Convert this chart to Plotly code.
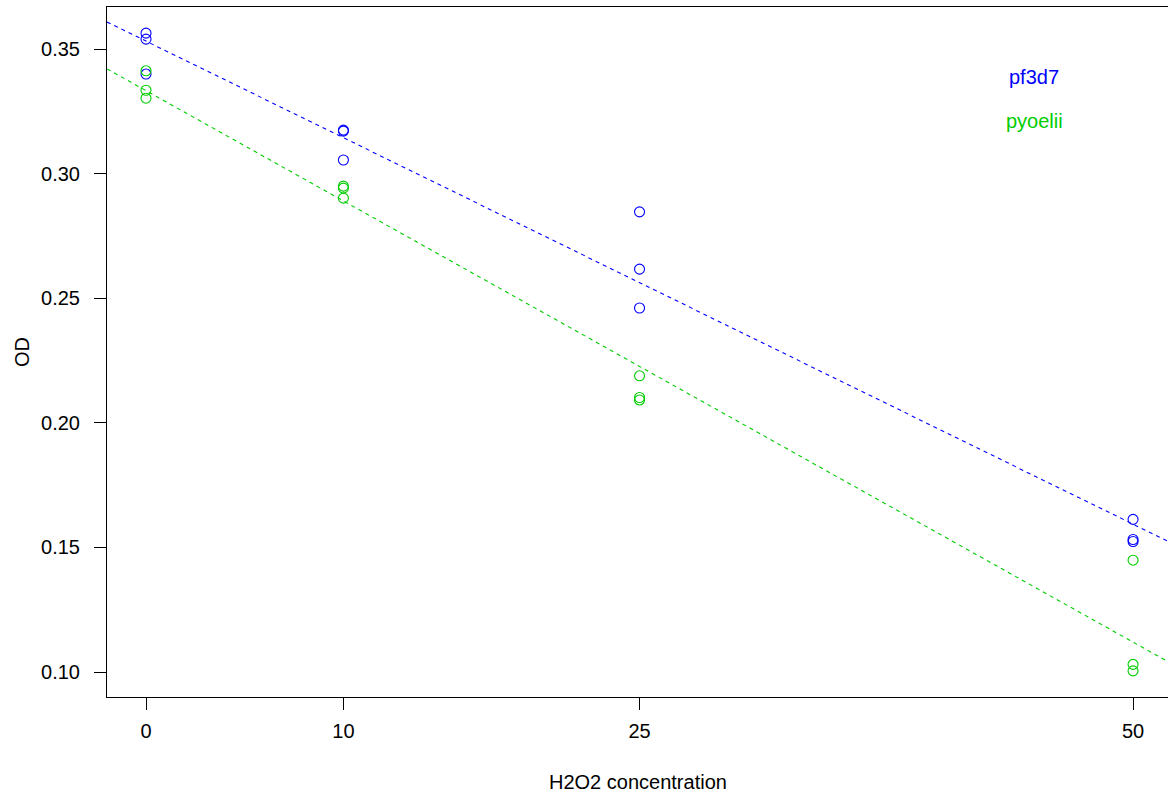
import numpy as np
import plotly.graph_objects as go

# Data
conc = [0, 0, 0, 10, 10, 10, 25, 25, 25, 50, 50, 50]
pf3d7_od = [0.3564, 0.3540, 0.3400, 0.3175, 0.3171, 0.3055,
            0.2847, 0.2617, 0.2461, 0.1613, 0.1532, 0.1524]
pyoelii_od = [0.3413, 0.3335, 0.3303, 0.2950, 0.2942, 0.2902,
              0.2189, 0.2102, 0.2092, 0.1449, 0.1031, 0.1005]
x_ticks = [0, 10, 25, 50]
y_ticks = [0.10, 0.15, 0.20, 0.25, 0.30, 0.35]

BLUE = "#0000FF"
GREEN = "#00CD00"
FONT = "Liberation Sans, Arial, sans-serif"

x_range = [-1.976, 51.77]
y_range = [0.0900, 0.3669]

W, H = 1168, 800
ML, MT, MB = 107, 7, 103
plot_w = W - ML
plot_h = H - MT - MB

fig = go.Figure()

for vals, col in [(pf3d7_od, BLUE), (pyoelii_od, GREEN)]:
    fig.add_trace(go.Scatter(
        x=conc, y=vals, mode="markers",
        marker=dict(symbol="circle-open", size=10, color=col, line=dict(width=1.1, color=col)),
        showlegend=False, hoverinfo="skip"))
    slope, intercept = np.polyfit(conc, vals, 1)
    xs = np.array(x_range)
    fig.add_trace(go.Scatter(
        x=xs, y=intercept + slope * xs, mode="lines",
        line=dict(color=col, width=1.1, dash="4px,4px"),
        showlegend=False, hoverinfo="skip"))

fig.add_annotation(x=45, y=0.3388, xref="x", yref="y", text="pf3d7", showarrow=False,
                   font=dict(family=FONT, size=20, color=BLUE))
fig.add_annotation(x=45, y=0.3211, xref="x", yref="y", text="pyoelii", showarrow=False,
                   font=dict(family=FONT, size=20, color=GREEN))

# axis titles
fig.add_annotation(x=0.5, y=-85 / plot_h, xref="paper", yref="paper", text="H2O2 concentration",
                   showarrow=False, yanchor="middle",
                   font=dict(family=FONT, size=20, color="black"))
fig.add_annotation(text="OD", xref="paper", yref="paper", x=-85 / plot_w, y=0.5,
                   xanchor="center", showarrow=False, textangle=-90,
                   font=dict(family=FONT, size=20, color="black"))

fig.update_layout(
    width=W, height=H,
    margin=dict(l=ML, r=0, t=MT, b=MB, pad=0),
    paper_bgcolor="white", plot_bgcolor="white",
    font=dict(family=FONT, size=20, color="black"),
)

fig.update_xaxes(
    range=x_range, tickvals=x_ticks, ticktext=[str(v) for v in x_ticks],
    showgrid=False, zeroline=False, showline=True, linecolor="black", linewidth=1,
    mirror=True, ticks="outside", ticklen=12, tickcolor="black", tickwidth=1,
    ticklabelstandoff=4,
)
fig.update_yaxes(
    range=y_range, tickvals=y_ticks, ticktext=[f"{v:.2f}" for v in y_ticks],
    showgrid=False, zeroline=False, showline=True, linecolor="black", linewidth=1,
    mirror=False, ticks="outside", ticklen=12, tickcolor="black", tickwidth=1,
    ticklabelstandoff=10,
)

fig.write_html(
    "out.html",
    config={"displayModeBar": False},
    post_script="document.body.style.margin='0px';document.body.style.overflow='hidden';",
)
